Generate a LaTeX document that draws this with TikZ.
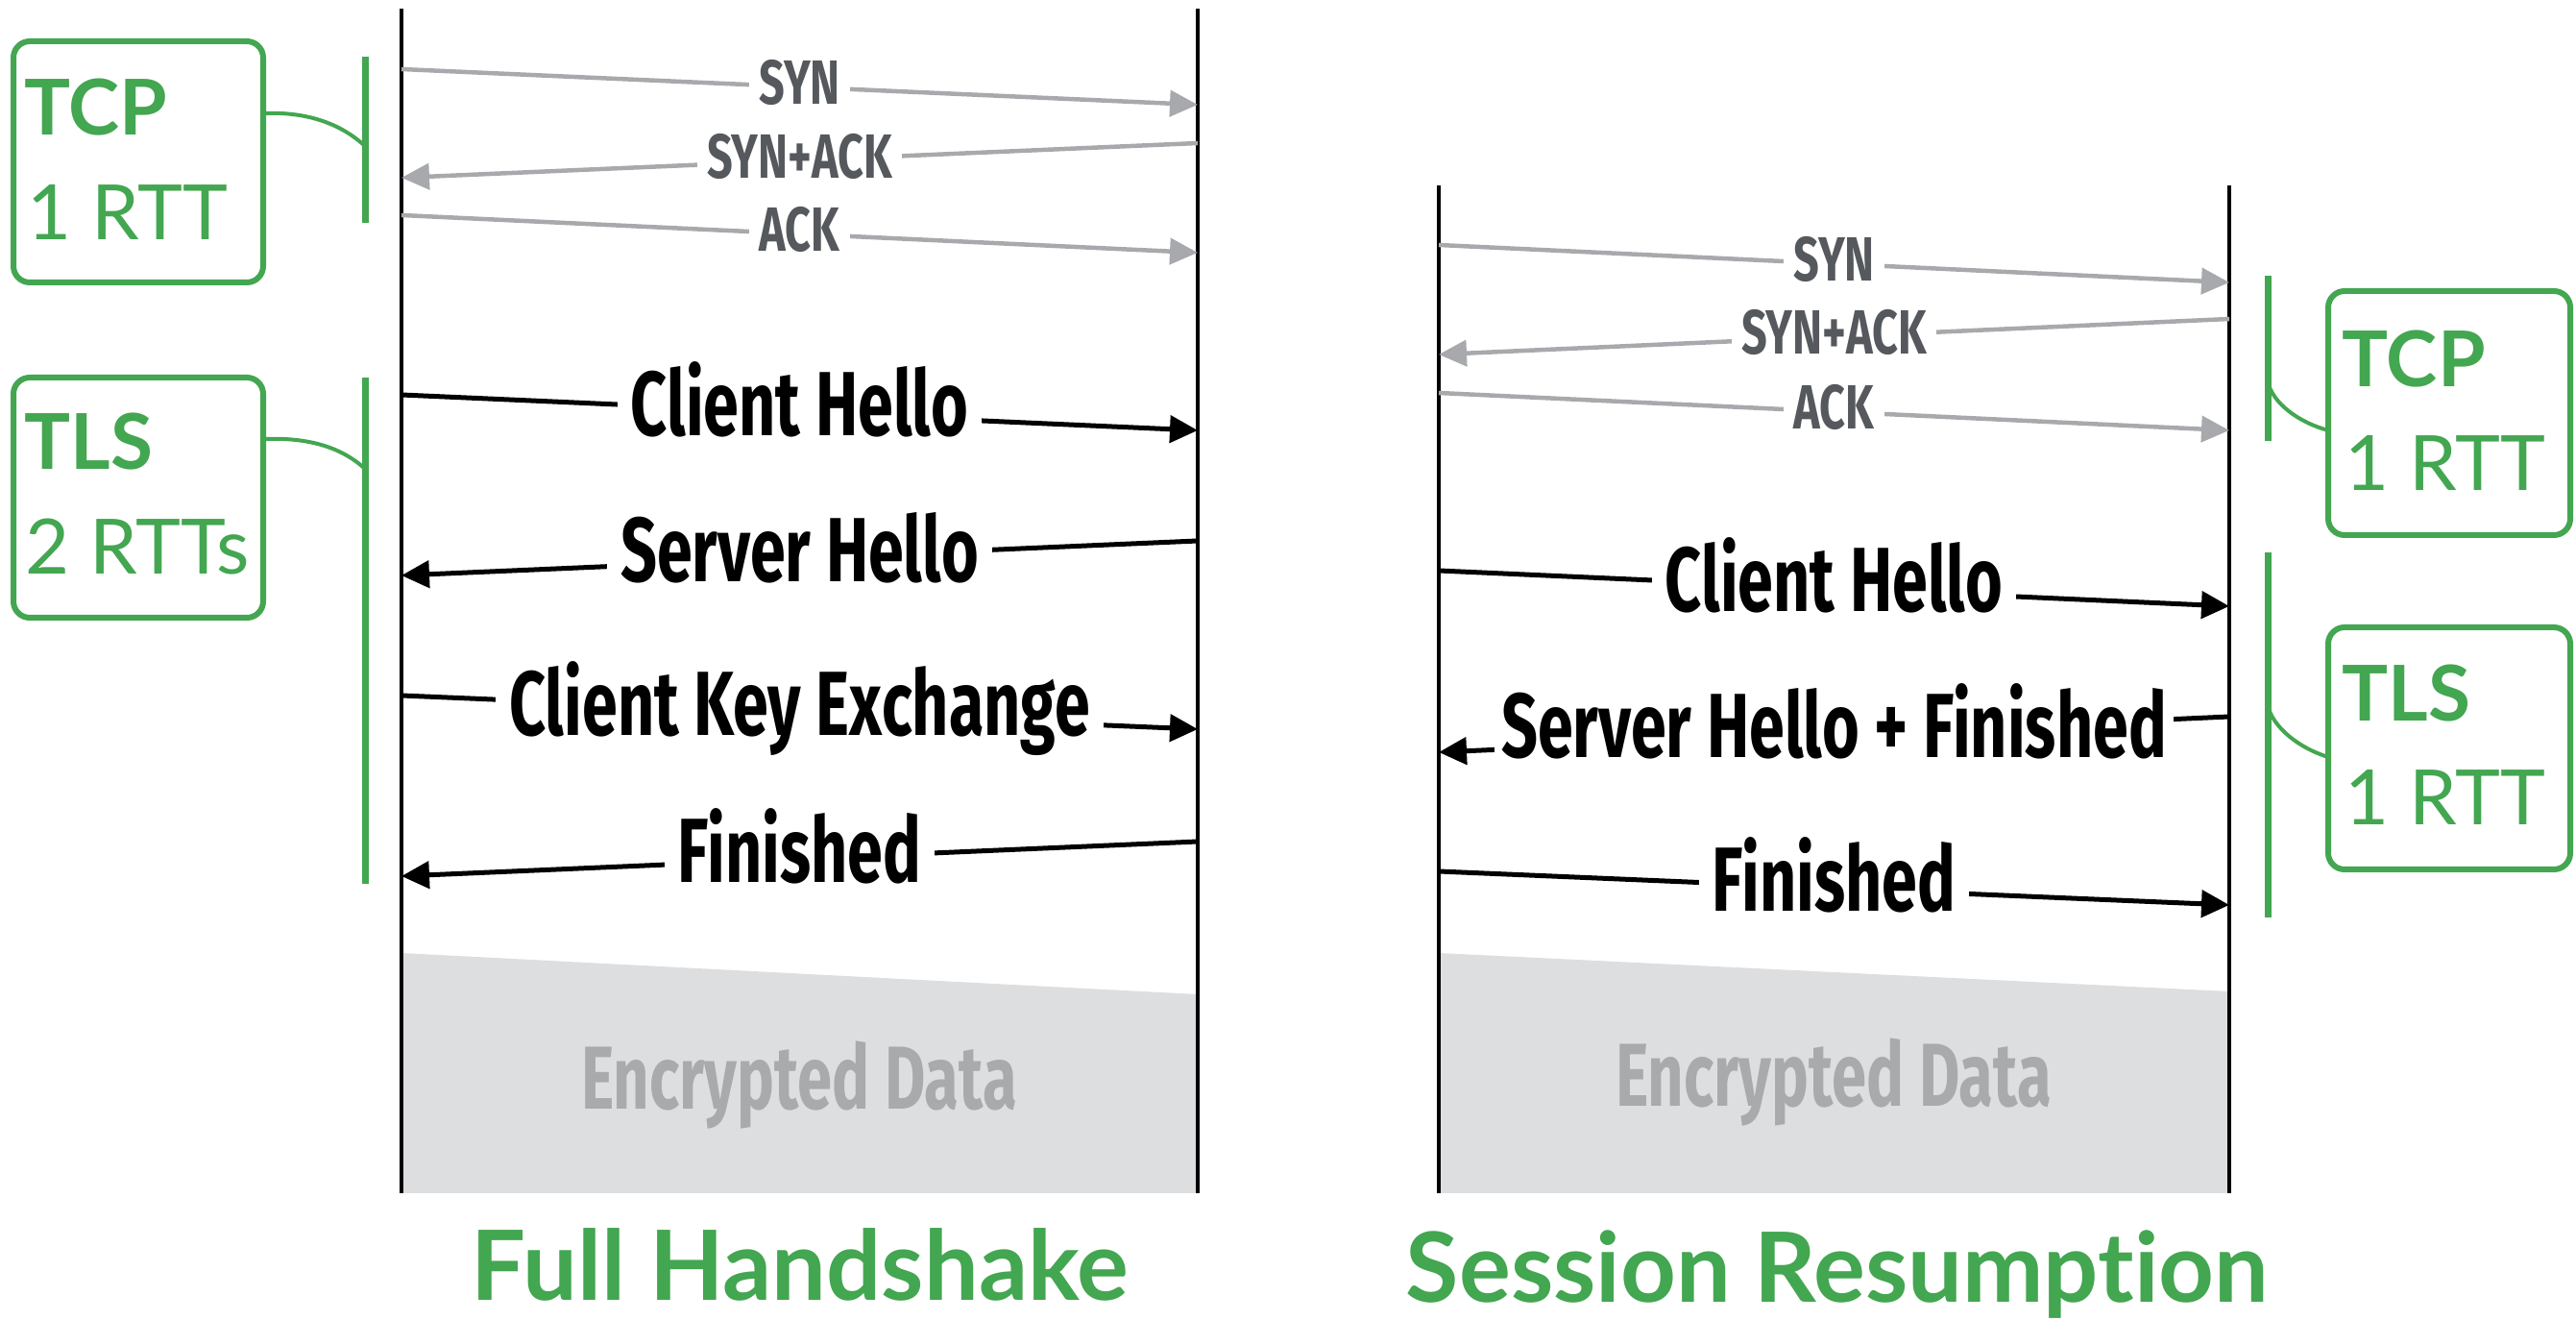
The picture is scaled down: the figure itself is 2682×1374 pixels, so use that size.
\documentclass[tikz,border=0pt]{standalone}
\usepackage{fontspec}
\setmainfont{Lato}[Ligatures={NoCommon}]
\newfontfamily\condfont[FakeStretch=0.70]{Fira Sans}
\newfontfamily\smallcond[FakeStretch=0.72]{Fira Sans}
\usetikzlibrary{arrows.meta}
\definecolor{tgreen}{HTML}{43A650}
\definecolor{agray}{HTML}{A7A9AC}
\definecolor{lgray}{HTML}{55585C}
\definecolor{encfill}{HTML}{DDDEE0}
\definecolor{enctext}{HTML}{A8AAAC}
\begin{document}
\begin{tikzpicture}[x=0.1mm,y=-0.1mm,
  lifeline/.style={line width=0.45mm, black},
  msg/.style={line width=0.5mm, black, -{Triangle[length=2.9mm,width=2.8mm]}},
  tcpmsg/.style={line width=0.45mm, agray, -{Triangle[length=2.9mm,width=2.7mm]}},
  msglbl/.style={pos=0.5, anchor=base, yshift=-2.45mm, fill=white, inner xsep=4pt, inner ysep=2pt,
     font=\condfont\bfseries\fontsize{27}{30}\selectfont, text=black},
  tcplbl/.style={pos=0.5, anchor=base, yshift=-1.85mm, fill=white, inner xsep=3pt, inner ysep=1pt,
     font=\smallcond\bfseries\fontsize{18.5}{21}\selectfont, text=lgray},
  enclbl/.style={anchor=base, inner sep=0pt, font=\condfont\bfseries\fontsize{26.5}{30}\selectfont, text=enctext},
  gbox/.style={draw=tgreen, line width=0.6mm, rounded corners=1.7mm, inner sep=0pt},
  bracket/.style={draw=tgreen, line width=0.7mm},
  gcurve/.style={draw=tgreen, line width=0.4mm},
  boldlbl/.style={anchor=base west, inner sep=0pt, text=tgreen, font=\bfseries\fontsize{22.8}{26}\selectfont},
  reglbl/.style={anchor=base west, inner sep=0pt, text=tgreen, font=\fontsize{22.6}{26}\selectfont},
  titlelbl/.style={anchor=base, inner sep=0pt, text=tgreen, font=\bfseries\fontsize{28.7}{32}\selectfont}
]
\useasboundingbox (0,0) rectangle (2682,1374);

% ---------------- Full handshake ----------------
\fill[encfill] (418,992) -- (1247,1035) -- (1247,1242) -- (418,1242) -- cycle;
\node[enclbl] (encL) at (832,1155) {Encrypted Data};

\coordinate (cLtop) at (418,9);   \coordinate (cLbot) at (418,1242);
\coordinate (sLtop) at (1247,9);  \coordinate (sLbot) at (1247,1242);
\draw[lifeline] (cLtop) -- (cLbot);
\draw[lifeline] (sLtop) -- (sLbot);

\coordinate (a1) at (418,72);   \coordinate (b1) at (1247,109);
\coordinate (b2) at (1247,149); \coordinate (a2) at (418,185);
\coordinate (a3) at (418,224);  \coordinate (b3) at (1247,263);
\coordinate (a4) at (418,411);  \coordinate (b4) at (1247,448);
\coordinate (b5) at (1247,563); \coordinate (a5) at (418,599);
\coordinate (a6) at (418,724);  \coordinate (b6) at (1247,759);
\coordinate (b7) at (1247,876); \coordinate (a7) at (418,912);

\draw[tcpmsg] (a1) -- node[tcplbl] (synL) {SYN} (b1);
\draw[tcpmsg] (b2) -- node[tcplbl] (synackL) {SYN+ACK} (a2);
\draw[tcpmsg] (a3) -- node[tcplbl] (ackL) {ACK} (b3);
\draw[msg] (a4) -- node[msglbl] (chL) {Client Hello} (b4);
\draw[msg] (b5) -- node[msglbl] (shL) {Server Hello} (a5);
\draw[msg] (a6) -- node[msglbl] (ckeL) {Client Key Exchange} (b6);
\draw[msg] (b7) -- node[msglbl] (finL) {Finished} (a7);

% left annotations
\node[gbox, minimum width=2.6cm, minimum height=2.51cm] (tcpL) at (144,168.5) {};
\node[boldlbl] (tcpLt) at (25,141) {TCP};
\node[reglbl] (tcpLr) at (28,250) {1 RTT};
\coordinate (tcpLb1) at (380,59); \coordinate (tcpLb2) at (380,232);
\draw[bracket] (tcpLb1) -- (tcpLb2);
\coordinate (tcpLc) at (274,118); \coordinate (tcpLj) at (380,152);
\draw[gcurve] (tcpLc) .. controls (322,116) and (356,130) .. (tcpLj);

\node[gbox, minimum width=2.6cm, minimum height=2.5cm] (tlsL) at (144,518) {};
\node[boldlbl] (tlsLt) at (25,489) {TLS};
\node[reglbl] (tlsLr) at (26,598) {2 RTTs};
\coordinate (tlsLb1) at (380,393); \coordinate (tlsLb2) at (380,920);
\draw[bracket] (tlsLb1) -- (tlsLb2);
\coordinate (tlsLc) at (274,457); \coordinate (tlsLj) at (380,488);
\draw[gcurve] (tlsLc) .. controls (322,455) and (356,466) .. (tlsLj);

\node[titlelbl] (titleL) at (833,1354) {Full Handshake};

% ---------------- Session resumption ----------------
\fill[encfill] (1498,992) -- (2321,1032) -- (2321,1242) -- (1498,1242) -- cycle;
\node[enclbl] (encR) at (1909,1152) {Encrypted Data};

\coordinate (cRtop) at (1498,193);  \coordinate (cRbot) at (1498,1242);
\coordinate (sRtop) at (2321,193);  \coordinate (sRbot) at (2321,1242);
\draw[lifeline] (cRtop) -- (cRbot);
\draw[lifeline] (sRtop) -- (sRbot);

\coordinate (c1) at (1498,255);  \coordinate (d1) at (2321,294);
\coordinate (d2) at (2321,332);  \coordinate (c2) at (1498,369);
\coordinate (c3) at (1498,409);  \coordinate (d3) at (2321,448);
\coordinate (c4) at (1498,594);  \coordinate (d4) at (2321,631);
\coordinate (d5) at (2321,746);  \coordinate (c5) at (1498,783);
\coordinate (c6) at (1498,907);  \coordinate (d6) at (2321,942);

\draw[tcpmsg] (c1) -- node[tcplbl] (synR) {SYN} (d1);
\draw[tcpmsg] (d2) -- node[tcplbl] (synackR) {SYN+ACK} (c2);
\draw[tcpmsg] (c3) -- node[tcplbl] (ackR) {ACK} (d3);
\draw[msg] (c4) -- node[msglbl] (chR) {Client Hello} (d4);
\draw[msg] (d5) -- node[msglbl, inner xsep=2pt] (shR) {Server Hello + Finished} (c5);
\draw[msg] (c6) -- node[msglbl] (finR) {Finished} (d6);

% right annotations
\node[gbox, minimum width=2.52cm, minimum height=2.54cm] (tcpR) at (2550,430) {};
\node[boldlbl] (tcpRt) at (2438,403) {TCP};
\node[reglbl] (tcpRr) at (2441,511) {1 RTT};
\coordinate (tcpRb1) at (2361,287); \coordinate (tcpRb2) at (2361,459);
\draw[bracket] (tcpRb1) -- (tcpRb2);
\coordinate (tcpRj) at (2361,397); \coordinate (tcpRc) at (2424,448);
\draw[gcurve] (tcpRj) .. controls (2366,420) and (2394,440) .. (tcpRc);

\node[gbox, minimum width=2.52cm, minimum height=2.52cm] (tlsR) at (2550,779) {};
\node[boldlbl] (tlsRt) at (2438,751) {TLS};
\node[reglbl] (tlsRr) at (2441,859) {1 RTT};
\coordinate (tlsRb1) at (2361,575); \coordinate (tlsRb2) at (2361,955);
\draw[bracket] (tlsRb1) -- (tlsRb2);
\coordinate (tlsRj) at (2361,734); \coordinate (tlsRc) at (2424,788);
\draw[gcurve] (tlsRj) .. controls (2366,757) and (2394,779) .. (tlsRc);

\node[titlelbl] (titleR) at (1913,1355) {Session Resumption};
\end{tikzpicture}
\end{document}
